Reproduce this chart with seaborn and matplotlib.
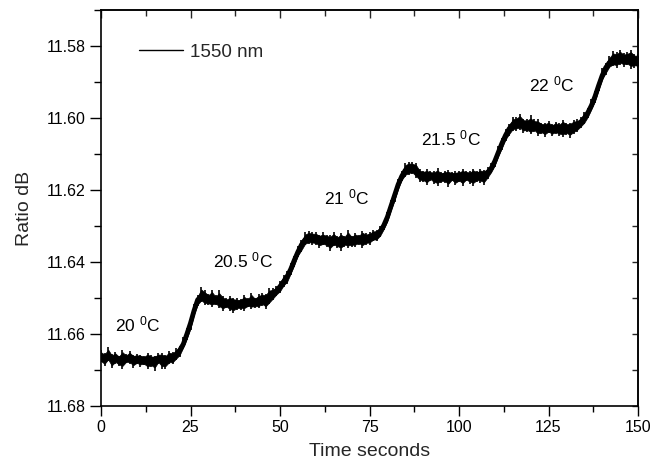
import numpy as np
import pandas as pd
import matplotlib
matplotlib.use("Agg")
import matplotlib.pyplot as plt
from matplotlib.ticker import MultipleLocator, FormatStrFormatter
import seaborn as sns

# ---------------- data ----------------
time_s = np.arange(0, 151, 1)  # one reading per second

ratio_center = [
    11.6665, 11.6667, 11.6662, 11.6668, 11.6666, 11.6670, 11.6667, 11.6669, 11.6665, 11.6668,
    11.6670, 11.6668, 11.6671, 11.6669, 11.6672, 11.6670, 11.6668, 11.6671, 11.6669, 11.6667,
    11.6664, 11.6658, 11.6645, 11.6628, 11.6600, 11.6570, 11.6535, 11.6505, 11.6495, 11.6498,
    11.6502, 11.6500, 11.6505, 11.6508, 11.6510, 11.6512, 11.6514, 11.6512, 11.6515, 11.6513,
    11.6510, 11.6512, 11.6508, 11.6510, 11.6506, 11.6505, 11.6502, 11.6498, 11.6490, 11.6480,
    11.6468, 11.6455, 11.6440, 11.6420, 11.6395, 11.6372, 11.6352, 11.6338, 11.6332, 11.6330,
    11.6333, 11.6335, 11.6338, 11.6336, 11.6340, 11.6338, 11.6340, 11.6337, 11.6339, 11.6336,
    11.6338, 11.6335, 11.6336, 11.6333, 11.6334, 11.6330, 11.6328, 11.6324, 11.6315, 11.6298,
    11.6275, 11.6245, 11.6215, 11.6185, 11.6162, 11.6145, 11.6138, 11.6140, 11.6148, 11.6155,
    11.6158, 11.6160, 11.6158, 11.6161, 11.6160, 11.6162, 11.6159, 11.6161, 11.6160, 11.6162,
    11.6159, 11.6160, 11.6158, 11.6160, 11.6157, 11.6158, 11.6156, 11.6157, 11.6152, 11.6140,
    11.6120, 11.6095, 11.6070, 11.6048, 11.6030, 11.6018, 11.6013, 11.6012, 11.6016, 11.6020,
    11.6022, 11.6020, 11.6024, 11.6025, 11.6027, 11.6026, 11.6028, 11.6026, 11.6027, 11.6025,
    11.6027, 11.6025, 11.6023, 11.6020, 11.6012, 11.6000, 11.5985, 11.5965, 11.5940, 11.5910,
    11.5882, 11.5860, 11.5846, 11.5838, 11.5834, 11.5832, 11.5834, 11.5836, 11.5835, 11.5838,
    11.5840,
]

# noise excursion of the trace above / below the centre (units of 0.001 dB)
spread_up = [
    2.0, 1.4, 2.6, 1.2, 1.7, 1.0, 2.3, 1.3, 1.8, 1.0, 1.5, 1.1, 1.0, 1.7, 1.3, 1.0, 1.5, 1.9, 1.1, 2.1,
    1.4, 1.8, 1.2, 2.0, 1.6, 1.4, 1.8, 1.3, 2.6, 1.9,
    1.4, 2.3, 1.2, 3.0, 1.6, 1.1, 2.0, 1.2, 1.4, 1.0, 1.8, 1.2, 2.3, 1.1, 1.6, 2.0, 1.4, 2.6, 1.8, 1.2,
    1.6, 2.0, 1.4, 1.8, 1.2, 1.6, 1.4, 2.0, 1.8, 1.2,
    1.6, 1.1, 2.0, 1.2, 1.4, 2.2, 1.1, 1.8, 1.2, 2.5, 1.1, 1.6, 1.2, 2.0, 1.4, 1.2, 1.8, 1.4, 1.6, 1.2,
    1.4, 1.8, 1.2, 1.6, 1.4, 2.0, 1.6, 1.8, 2.4, 1.2,
    1.2, 1.8, 1.0, 1.4, 2.0, 1.1, 1.2, 1.6, 1.0, 1.4, 1.2, 1.8, 1.1, 1.2, 1.6, 1.0, 1.4, 1.2, 1.6, 1.4,
    1.2, 1.6, 1.4, 1.8, 1.2, 2.0, 1.6, 2.4, 1.4, 1.8,
    2.9, 1.6, 2.0, 1.2, 1.4, 1.8, 1.1, 1.6, 1.2, 2.0, 1.4, 1.2, 1.8, 1.6, 1.4,
    1.6, 1.2, 1.8, 1.4, 1.6, 2.0, 1.4, 1.8, 2.4, 1.6, 2.2, 1.4, 2.0, 2.5, 1.6, 1.8,
]
spread_down = [
    1.4, 2.2, 1.2, 2.7, 1.6, 2.0, 3.0, 1.2, 1.8, 2.6, 1.4, 2.3, 1.6, 2.9, 2.0, 3.2, 1.4, 2.5, 2.8, 1.6,
    2.0, 1.4, 1.8, 1.2, 1.6, 2.0, 1.4, 1.8, 1.6, 2.2,
    1.8, 2.5, 1.4, 2.0, 2.6, 1.6, 2.3, 3.0, 1.8, 2.0, 2.5, 1.4, 2.2, 1.8, 2.3, 1.6, 2.9, 2.0, 1.6, 1.4,
    1.8, 1.4, 2.0, 1.6, 1.8, 1.4, 2.0, 1.6, 1.8, 2.2,
    2.0, 2.6, 1.6, 2.3, 2.9, 1.8, 2.2, 3.2, 1.8, 2.5, 2.0, 2.3, 1.6, 2.8, 1.8, 2.2, 1.4, 1.8, 1.6, 1.4,
    1.6, 1.4, 1.8, 1.6, 1.4, 1.8, 2.0, 1.6, 1.8, 2.3,
    2.0, 2.6, 1.6, 2.3, 2.8, 1.8, 2.2, 3.0, 1.6, 2.5, 2.0, 2.9, 1.8, 2.3, 3.2, 2.0, 2.5, 2.9, 1.8, 1.4,
    1.6, 1.4, 1.8, 1.6, 2.0, 1.8, 2.2, 2.0, 2.6, 1.8,
    2.3, 1.8, 2.6, 2.0, 2.5, 1.6, 2.2, 1.8, 2.3, 2.8, 2.0, 3.0, 2.2, 1.8, 1.6,
    1.8, 1.6, 1.4, 1.8, 1.6, 1.4, 2.0, 1.6, 1.8, 2.6, 2.0, 2.3, 1.8, 2.8, 2.2, 2.0,
]

series_label = "1550 nm"
annot_text = ["20 $^{0}$C", "20.5 $^{0}$C", "21 $^{0}$C", "21.5 $^{0}$C", "22 $^{0}$C"]
annot_t = [3.9, 31.2, 62.3, 89.4, 119.6]
annot_y = [11.6594, 11.6416, 11.6239, 11.6077, 11.5927]

x_label = "Time seconds"
y_label = "Ratio dB"

# ---------------- styling ----------------
sns.set_style("ticks")
plt.rcParams["font.family"] = ["Liberation Sans", "DejaVu Sans"]
plt.rcParams["mathtext.fontset"] = "custom"
plt.rcParams["mathtext.rm"] = "Liberation Sans"
plt.rcParams["mathtext.it"] = "Liberation Sans:italic"
plt.rcParams["mathtext.bf"] = "Liberation Sans:bold"

df = pd.DataFrame({"t": time_s, "ratio": ratio_center})
center = np.asarray(ratio_center)
up = np.asarray(spread_up) * 1e-3
down = np.asarray(spread_down) * 1e-3

fig = plt.figure(figsize=(6.52, 4.72), dpi=100)
ax = fig.add_axes([101 / 652, 1 - 406 / 472, 537 / 652, 396 / 472])

# noisy band: jagged envelope + spikes + dense core
ax.fill_between(time_s, center - 0.72 * up, center + 0.72 * down, color="black",
                linewidth=0.5, edgecolor="black")
ax.vlines(time_s, center - up, center + down, color="black", linewidth=1.2)
sns.lineplot(data=df, x="t", y="ratio", ax=ax, color="black", linewidth=3.5,
             label=series_label, solid_joinstyle="round")

ax.set_xlim(0, 150)
ax.set_ylim(11.68, 11.57)

ax.xaxis.set_major_locator(MultipleLocator(25))
ax.xaxis.set_minor_locator(MultipleLocator(12.5))
ax.yaxis.set_major_locator(MultipleLocator(0.02))
ax.yaxis.set_minor_locator(MultipleLocator(0.01))
ax.yaxis.set_major_formatter(FormatStrFormatter("%.2f"))

ax.tick_params(which="both", direction="out", top=False, right=False,
               labelsize=11.5, color="black", labelcolor="black", width=1.0)
ax.tick_params(axis="x", which="major", length=7, pad=3)
ax.tick_params(axis="x", which="minor", length=4)
ax.tick_params(axis="y", which="major", length=8, pad=3)
ax.tick_params(axis="y", which="minor", length=5)

for sp in ax.spines.values():
    sp.set_visible(True)
    sp.set_color("black")
    sp.set_linewidth(1.2)

# mirrored inward ticks on top and right
sec_x = ax.secondary_xaxis("top")
sec_x.xaxis.set_major_locator(MultipleLocator(25))
sec_x.xaxis.set_minor_locator(MultipleLocator(12.5))
sec_x.tick_params(which="both", direction="in", labeltop=False, width=1.0)
sec_x.tick_params(which="major", length=6)
sec_x.tick_params(which="minor", length=4)
sec_x.spines["top"].set_linewidth(1.2)

sec_y = ax.secondary_yaxis("right")
sec_y.yaxis.set_major_locator(MultipleLocator(0.02))
sec_y.yaxis.set_minor_locator(MultipleLocator(0.01))
sec_y.tick_params(which="both", direction="in", labelright=False, width=1.0)
sec_y.tick_params(which="major", length=4)
sec_y.tick_params(which="minor", length=4)
sec_y.spines["right"].set_linewidth(1.2)

ax.set_xlabel(x_label, fontsize=14, labelpad=6)
ax.set_ylabel(y_label, fontsize=14, labelpad=10)

for txt, tx, ty in zip(annot_text, annot_t, annot_y):
    ax.text(tx, ty, txt, fontsize=12.5, ha="left", va="baseline", color="black")

leg = ax.legend(loc="center left", bbox_to_anchor=(0.0708, 0.894), frameon=False,
                fontsize=13.5, handlelength=2.35, handletextpad=0.35,
                borderpad=0, borderaxespad=0)
for h in leg.get_lines():
    h.set_linewidth(1.0)

fig.savefig("out.png", dpi=100)
